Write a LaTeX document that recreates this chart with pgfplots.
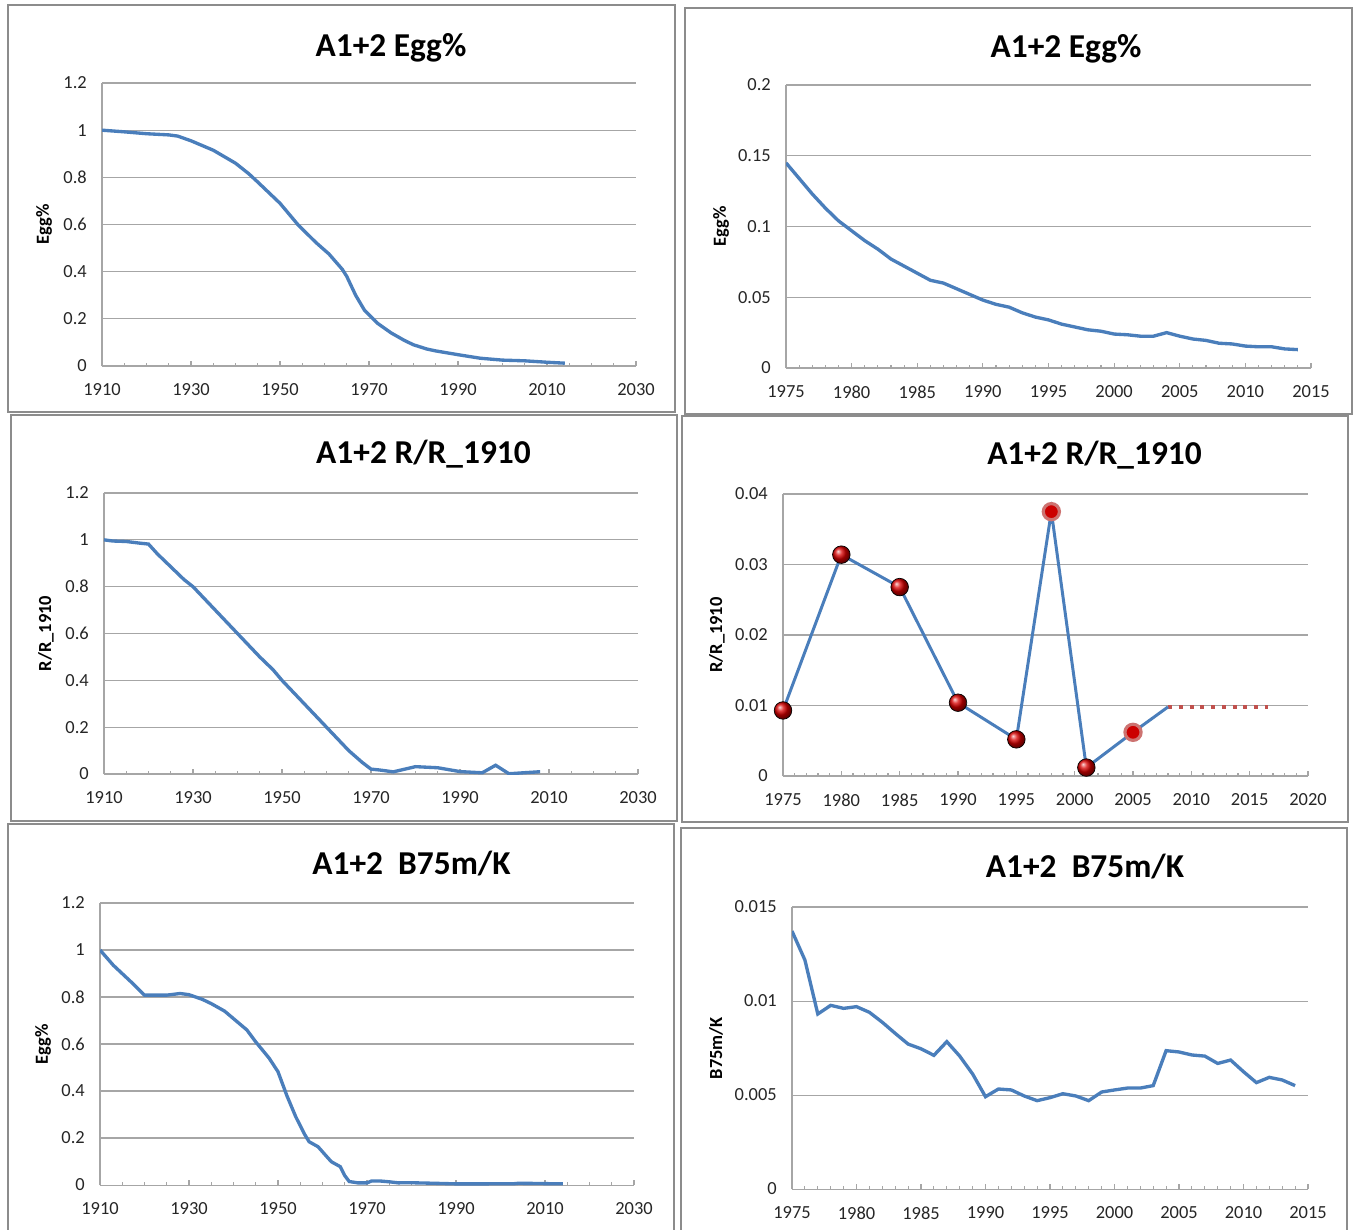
\documentclass[border=0pt]{standalone}
\usepackage{fontspec}
\setmainfont{Carlito}
\usepackage{pgfplots}
\pgfplotsset{compat=1.18}

\definecolor{xlblue}{HTML}{4A7EBB}
\definecolor{xlred}{HTML}{C0504D}
\definecolor{gridgray}{HTML}{A6A6A6}
\definecolor{framegray}{HTML}{8C8C8C}

\pgfplotsset{
  xlchart/.style={
    scale only axis,
    anchor=south west,
    axis lines*=left,
    axis line style={gridgray, line width=0.6pt, -},
    ymajorgrids,
    major grid style={gridgray, line width=0.6pt},
    tick align=inside,
    xtick style={gridgray, line width=0.6pt},
    major tick length=1.1mm,
    minor tick length=0.7mm,
    ytick style={draw=none},
    tick label style={font=\fontsize{10.5}{12}\selectfont, text=black!85},
    xticklabel style={yshift=-2.3mm, /pgf/number format/1000 sep={}},
    yticklabel style={xshift=-1.8mm, /pgf/number format/fixed, /pgf/number format/precision=3},
    /pgf/number format/assume math mode=true,
    scaled y ticks=false,
    ylabel style={font=\fontsize{10.5}{12}\selectfont\bfseries, anchor=center},
  },
  xlline/.style={xlblue, line width=1.9pt, no marks},
}
\tikzset{titlefont/.style={font=\fontsize{19}{22}\selectfont\bfseries, anchor=base}}

\begin{document}
\begin{tikzpicture}
\path[use as bounding box] (0,0) rectangle (271.4mm,-245.8mm);

% panel frames
\draw[framegray, line width=0.45mm] (1.6mm,-1mm) rectangle (135mm,-82.4mm);
\draw[framegray, line width=0.45mm] (137mm,-1.6mm) rectangle (270.4mm,-82.8mm);
\draw[framegray, line width=0.45mm] (2.2mm,-83mm) rectangle (135.4mm,-164.2mm);
\draw[framegray, line width=0.45mm] (136.4mm,-83.2mm) rectangle (269.6mm,-164.4mm);
\draw[framegray, line width=0.45mm] (1.6mm,-246.5mm) -- (1.6mm,-164.8mm) -- (134.8mm,-164.8mm) -- (134.8mm,-246.5mm);
\draw[framegray, line width=0.45mm] (136.2mm,-246.5mm) -- (136.2mm,-165.6mm) -- (269.4mm,-165.6mm) -- (269.4mm,-246.5mm);

% titles
\node[titlefont] at (78.2mm,-11.2mm) {A1+2 Egg\%};
\node[titlefont] at (213.2mm,-11.4mm) {A1+2 Egg\%};
\node[titlefont] at (84.7mm,-92.6mm) {A1+2 R/R\_1910};
\node[titlefont] at (218.9mm,-92.8mm) {A1+2 R/R\_1910};
\node[titlefont] at (82.3mm,-174.8mm) {A1+2~~B75m/K};
\node[titlefont] at (217mm,-175.4mm) {A1+2~~B75m/K};

% panel 1: Egg% 1910-2014
\begin{axis}[xlchart, at={(20.4mm,-73.2mm)}, width=106.8mm, height=56.6mm,
  xmin=1910, xmax=2030, ymin=0, ymax=1.2,
  xtick={1910,1930,1950,1970,1990,2010,2030}, minor x tick num=3,
  ytick={0,0.2,0.4,0.6,0.8,1,1.2},
  ylabel={Egg\%}, ylabel style={at={(axis description cs:-0.1086,0.5)}}]
\addplot[xlline] table {
1910 1.0
1915 0.993
1920 0.985
1925 0.980
1927 0.975
1930 0.955
1935 0.915
1940 0.86
1943 0.815
1945 0.78
1950 0.69
1954 0.60
1958 0.525
1961 0.475
1964 0.41
1965 0.38
1967 0.30
1969 0.236
1972 0.18
1975 0.14
1978 0.108
1980 0.09
1983 0.072
1985 0.064
1990 0.048
1995 0.033
2000 0.025
2005 0.022
2010 0.016
2014 0.012
};
\end{axis}

% panel 2: Egg% 1975-2014
\begin{axis}[xlchart, at={(157.2mm,-73.6mm)}, width=105mm, height=56.6mm,
  xmin=1975, xmax=2015, ymin=0, ymax=0.2,
  xtick={1975,1980,...,2015}, minor x tick num=4,
  ytick={0,0.05,0.1,0.15,0.2},
  ylabel={Egg\%}, ylabel style={at={(axis description cs:-0.1238,0.5)}}]
\addplot[xlline] table {
1975 0.145
1976 0.134
1977 0.123
1978 0.113
1979 0.104
1980 0.097
1981 0.090
1982 0.084
1983 0.077
1984 0.072
1985 0.067
1986 0.062
1987 0.060
1988 0.056
1989 0.052
1990 0.048
1991 0.045
1992 0.043
1993 0.039
1994 0.036
1995 0.034
1996 0.031
1997 0.029
1998 0.027
1999 0.026
2000 0.024
2001 0.0235
2002 0.0225
2003 0.0225
2004 0.025
2005 0.0225
2006 0.0205
2007 0.0195
2008 0.0175
2009 0.017
2010 0.0155
2011 0.015
2012 0.015
2013 0.0135
2014 0.013
};
\end{axis}

% panel 3: R/R_1910 1910-2008
\begin{axis}[xlchart, at={(20.8mm,-154.8mm)}, width=106.8mm, height=56.2mm,
  xmin=1910, xmax=2030, ymin=0, ymax=1.2,
  xtick={1910,1930,1950,1970,1990,2010,2030}, minor x tick num=3,
  ytick={0,0.2,0.4,0.6,0.8,1,1.2},
  ylabel={R/R\_1910}, ylabel style={at={(axis description cs:-0.1086,0.5)}}]
\addplot[xlline] table {
1910 1.0
1912 0.995
1915 0.993
1918 0.986
1920 0.982
1922 0.94
1925 0.885
1928 0.83
1930 0.80
1935 0.70
1940 0.60
1943 0.54
1945 0.50
1948 0.445
1950 0.40
1955 0.30
1958 0.24
1960 0.20
1963 0.14
1965 0.10
1968 0.05
1970 0.021
1972 0.017
1975 0.0093
1980 0.0314
1985 0.0268
1990 0.0104
1995 0.0052
1998 0.0375
2001 0.0012
2005 0.0062
2008 0.0098
};
\end{axis}

% panel 4: R/R_1910 1975-2008 with markers
\begin{axis}[xlchart, at={(156.6mm,-155.2mm)}, width=105mm, height=56.4mm,
  xmin=1975, xmax=2020, ymin=0, ymax=0.04, clip=false,
  xtick={1975,1980,...,2020}, minor x tick num=4,
  ytick={0,0.01,0.02,0.03,0.04},
  ylabel={R/R\_1910}, ylabel style={at={(axis description cs:-0.1257,0.5)}}]
\addplot[xlred, line width=0.8mm, dash pattern=on 0.8mm off 1.35mm, no marks] table {
2008 0.0098
2016.6 0.0098
};
\addplot[xlblue, line width=1.7pt, no marks] table {
1975 0.0093
1980 0.0314
1985 0.0268
1990 0.0104
1995 0.0052
1998 0.0375
2001 0.0012
2005 0.0062
2008 0.0098
};
\addplot[only marks, mark=ball, mark size=5pt, mark options={ball color=red!85!black}] table {
1975 0.0093
1980 0.0314
1985 0.0268
1990 0.0104
1995 0.0052
2001 0.0012
};
\addplot[only marks, mark=*, mark size=4.6pt, mark options={fill=red!80!black, draw=xlred!80, line width=1.8pt}] table {
1998 0.0375
2005 0.0062
};
\end{axis}

% panel 5: B75m/K 1910-2014
\begin{axis}[xlchart, at={(20mm,-237mm)}, width=106.8mm, height=56.4mm,
  xmin=1910, xmax=2030, ymin=0, ymax=1.2,
  xtick={1910,1930,1950,1970,1990,2010,2030}, minor x tick num=3,
  ytick={0,0.2,0.4,0.6,0.8,1,1.2},
  ylabel={Egg\%}, ylabel style={at={(axis description cs:-0.1067,0.5)}}]
\addplot[xlline] table {
1910 1.0
1913 0.935
1917 0.864
1920 0.808
1925 0.808
1928 0.815
1930 0.81
1933 0.79
1935 0.772
1938 0.74
1940 0.708
1943 0.66
1945 0.609
1948 0.54
1950 0.482
1952 0.38
1954 0.29
1956 0.215
1957 0.184
1959 0.163
1961 0.12
1962 0.099
1964 0.078
1965 0.04
1966 0.015
1968 0.009
1970 0.009
1971 0.017
1973 0.017
1975 0.0137
1977 0.0093
1980 0.0097
1985 0.0075
1990 0.0049
1995 0.0049
2000 0.0053
2003 0.0055
2004 0.0074
2008 0.0067
2011 0.0057
2014 0.0055
};
\end{axis}

% panel 6: B75m/K 1975-2014
\begin{axis}[xlchart, at={(158.4mm,-237.8mm)}, width=103.2mm, height=56.4mm,
  xmin=1975, xmax=2015, ymin=0, ymax=0.015,
  xtick={1975,1980,...,2015}, minor x tick num=4,
  ytick={0,0.005,0.01,0.015},
  ylabel={B75m/K}, ylabel style={at={(axis description cs:-0.1473,0.5)}}]
\addplot[xlline] table {
1975 0.01372
1976 0.01218
1977 0.00931
1978 0.00977
1979 0.00961
1980 0.0097
1981 0.0094
1982 0.00887
1983 0.00828
1984 0.00771
1985 0.00746
1986 0.00711
1987 0.00784
1988 0.00707
1989 0.00612
1990 0.00491
1991 0.00532
1992 0.00527
1993 0.00495
1994 0.0047
1995 0.00486
1996 0.00507
1997 0.00495
1998 0.0047
1999 0.00516
2000 0.00527
2001 0.00537
2002 0.00537
2003 0.0055
2004 0.00736
2005 0.00729
2006 0.00713
2007 0.00707
2008 0.00668
2009 0.00686
2010 0.00624
2011 0.00566
2012 0.00594
2013 0.0058
2014 0.0055
};
\end{axis}
\end{tikzpicture}
\end{document}
